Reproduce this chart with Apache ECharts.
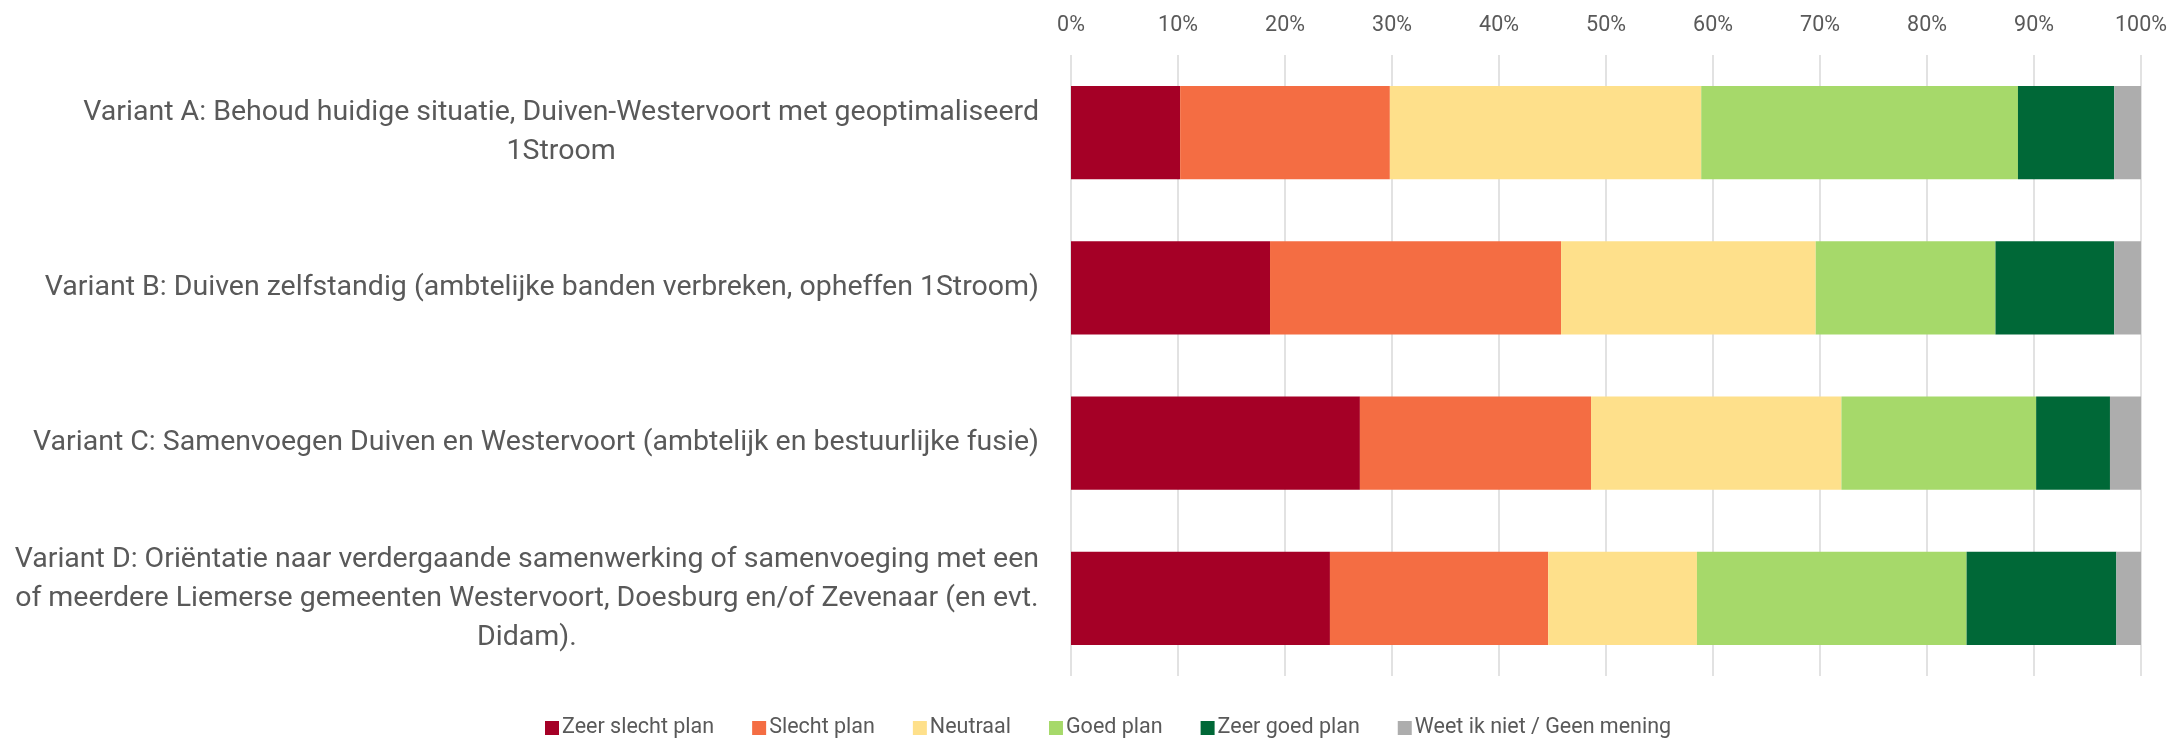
<!DOCTYPE html>
<html>
<head>
<meta charset="utf-8">
<script src="https://cdn.jsdelivr.net/npm/echarts@6/dist/echarts.min.js"></script>
<style>
  html, body { margin: 0; padding: 0; background: #fff; }
  #chart { width: 2171px; height: 739px; }
</style>
</head>
<body>
<div id="chart"></div>
<script>
const categories = [
  'Variant A: Behoud huidige situatie, Duiven-Westervoort met geoptimaliseerd\n1Stroom',
  'Variant B: Duiven zelfstandig (ambtelijke banden verbreken, opheffen 1Stroom)',
  'Variant C: Samenvoegen Duiven en Westervoort (ambtelijk en bestuurlijke fusie)',
  'Variant D: Oriëntatie naar verdergaande samenwerking of samenvoeging met een\nof meerdere Liemerse gemeenten Westervoort, Doesburg en/of Zevenaar (en evt.\nDidam).'
];

const seriesNames = ['Zeer slecht plan', 'Slecht plan', 'Neutraal', 'Goed plan', 'Zeer goed plan', 'Weet ik niet / Geen mening'];
const colors = ['#a50026', '#f46d43', '#fee08b', '#a6d96a', '#006837', '#adadad'];

// percentage per variant (A, B, C, D)
const zeerSlecht = [10.2, 18.6, 27.0, 24.2];
const slecht = [19.6, 27.2, 21.6, 20.4];
const neutraal = [29.1, 23.8, 23.4, 13.9];
const goed = [29.6, 16.8, 18.2, 25.2];
const zeerGoed = [9.0, 11.1, 6.9, 14.0];
const weetNiet = [2.5, 2.5, 2.9, 2.3];

const values = [zeerSlecht, slecht, neutraal, goed, zeerGoed, weetNiet];
const tickLabels = ['0%', '10%', '20%', '30%', '40%', '50%', '60%', '70%', '80%', '90%', '100%'];

const fontFamily = 'Roboto, "Noto Sans", sans-serif';
const textColor = '#595959';

const chart = echarts.init(document.getElementById('chart'));

chart.setOption({
  animation: false,
  grid: {
    left: 1071,
    right: 30,
    top: 55,
    bottom: 63,
    containLabel: false,
    outerBoundsMode: 'none'
  },
  legend: {
    top: 712,
    left: 540,
    itemWidth: 14,
    itemHeight: 14,
    itemGap: 38,
    icon: 'rect',
    textStyle: { color: textColor, fontSize: 21.5, fontFamily: fontFamily, padding: [0, 0, 0, -2] },
    data: seriesNames
  },
  xAxis: {
    type: 'value',
    position: 'top',
    min: 0,
    max: 100,
    interval: 10,
    axisLine: { show: false },
    axisTick: { show: false },
    splitLine: { show: true, lineStyle: { color: '#d9d9d9', width: 1.5 } },
    axisLabel: {
      color: textColor,
      fontSize: 21.5,
      fontFamily: fontFamily,
      margin: 18,
      formatter: (v) => tickLabels[Math.round(v / 10)]
    }
  },
  yAxis: {
    type: 'category',
    inverse: true,
    data: categories,
    axisLine: { show: false },
    axisTick: { show: false },
    axisLabel: {
      margin: 32,
      align: 'right',
      formatter: (v) => '{c|' + v + '}',
      rich: {
        c: {
          align: 'center',
          color: textColor,
          fontSize: 28.5,
          lineHeight: 39,
          fontFamily: fontFamily
        }
      }
    }
  },
  series: seriesNames.map((name, i) => ({
    name: name,
    type: 'bar',
    stack: 'total',
    barCategoryGap: '40%',
    itemStyle: { color: colors[i] },
    data: values[i]
  }))
});
</script>
</body>
</html>
